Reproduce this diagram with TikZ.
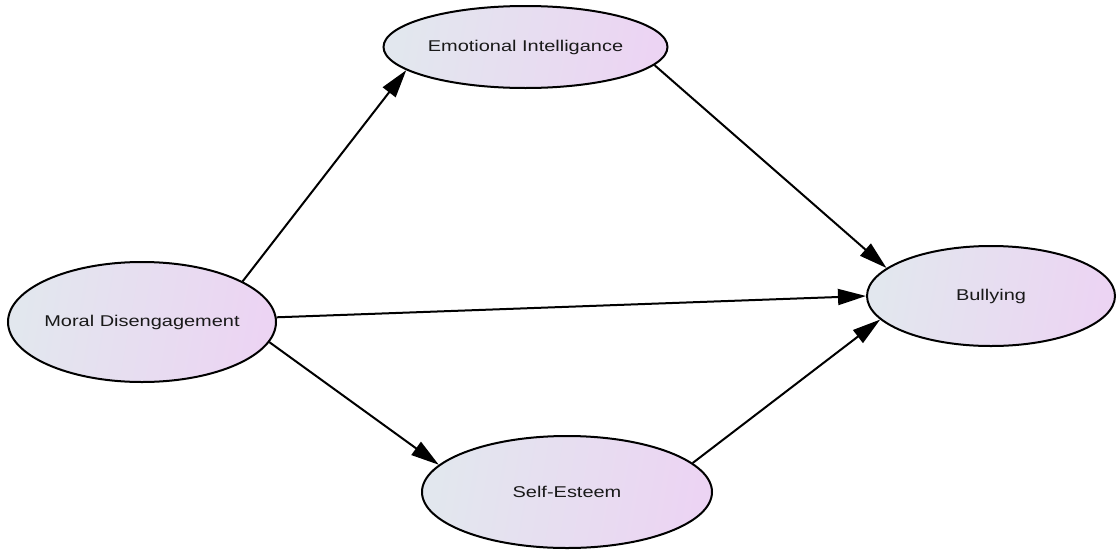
\documentclass[tikz,border=0pt]{standalone}
\usepackage{fontspec}
\newfontfamily\labfont[FakeStretch=1.28]{Liberation Sans}
\usetikzlibrary{shapes.geometric,arrows.meta}
\definecolor{shadeL}{RGB}{226,231,238}
\definecolor{shadeR}{RGB}{236,212,243}
\definecolor{txt}{RGB}{25,25,25}
\newcommand{\ztext}[1]{\makebox[0pt]{#1}}
\tikzset{
  latent/.style={ellipse, draw=black, line width=1.5pt, inner sep=0pt,
    left color=shadeL, right color=shadeR, shading angle=80,
    text=txt, font=\labfont\fontsize{11.7}{13}\selectfont},
  path/.style={draw=black, line width=1.5pt, -{Triangle[length=21pt,width=12pt]}}
}
\begin{document}
\begin{tikzpicture}[x=0.75pt,y=-0.75pt]
\useasboundingbox (0,0) rectangle (1117,550);
\node[latent, minimum width=213pt, minimum height=61.5pt] (ei) at (525.5,47) {\ztext{Emotional Intelligance}};
\node[latent, minimum width=201pt, minimum height=90pt] (md) at (142,322) {\ztext{Moral Disengagement}};
\node[latent, minimum width=186pt, minimum height=75pt] (bu) at (991,296) {\ztext{Bullying}};
\node[latent, minimum width=217.5pt, minimum height=84pt] (se) at (567,492) {\ztext{Self-Esteem}};
\draw[path] (md.22) -- (ei.191);
\draw[path] (ei.-8) -- (bu.165);
\draw[path] (md.2) -- (bu.180);
\draw[path] (md.-9.5) -- (se.168);
\draw[path] (se.13) -- (bu.192);
\end{tikzpicture}
\end{document}
